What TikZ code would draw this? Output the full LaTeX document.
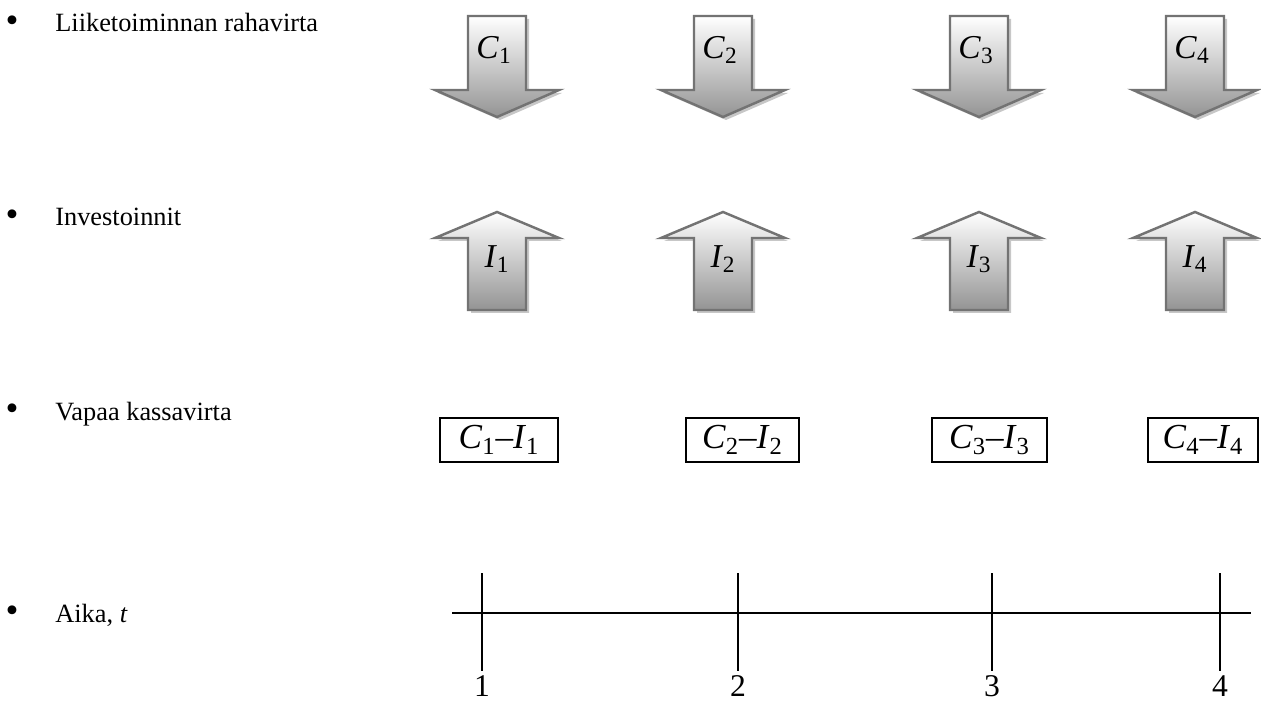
\documentclass[tikz,border=0pt]{standalone}
\usepackage{fontspec}
\setmainfont{Liberation Serif}
\usepackage{tikz}
\usetikzlibrary{positioning}
\newcommand{\Cf}[1]{\textit{C}\textsubscript{#1}}
\newcommand{\If}[1]{\textit{I}\textsubscript{#1}}

\begin{document}
\begin{tikzpicture}[x=0.02cm,y=-0.02cm,
  rowtext/.style={anchor=base west,inner sep=0pt,font=\fontsize{15}{18}\selectfont},
  bul/.style={inner sep=0pt,font=\fontsize{21}{24}\selectfont},
  sym/.style={inner sep=0pt,font=\fontsize{19}{22}\selectfont},
  fcbox/.style={draw,line width=1.1pt,minimum height=0.88cm,
    inner sep=0pt,font=\fontsize{20}{23}\selectfont},
  tline/.style={line width=1.1pt},
  num/.style={anchor=base,inner sep=0pt,font=\fontsize{18}{21}\selectfont},
  arrline/.style={draw=black!55,line width=1.4pt,top color=white,bottom color=black!42},
  shadowfill/.style={fill=black!22},
  downarr/.pic={
    \fill[shadowfill,shift={(3,3)}] (-29,0) -- (29,0) -- (29,74) -- (62,74)
      -- (0,101) -- (-62,74) -- (-29,74) -- cycle;
    \path[arrline] (-29,0) -- (29,0) -- (29,74) -- (62,74)
      -- (0,101) -- (-62,74) -- (-29,74) -- cycle;},
  uparr/.pic={
    \fill[shadowfill,shift={(3,3)}] (0,0) -- (62,26) -- (29,26) -- (29,98)
      -- (-29,98) -- (-29,26) -- (-62,26) -- cycle;
    \path[arrline] (0,0) -- (62,26) -- (29,26) -- (29,98)
      -- (-29,98) -- (-29,26) -- (-62,26) -- cycle;}]

  \useasboundingbox (0,0) rectangle (1261,702);

  % row titles
  \node[bul] (b1) at (12,24) {\textbullet};
  \node[rowtext] (r1) at (55,32) {Liiketoiminnan rahavirta};
  \node[bul] (b2) at (12,218) {\textbullet};
  \node[rowtext] (r2) at (55,226) {Investoinnit};
  \node[bul] (b3) at (12,412) {\textbullet};
  \node[rowtext] (r3) at (55,420) {Vapaa kassavirta};
  \node[bul] (b4) at (12,614) {\textbullet};
  \node[rowtext] (r4) at (55,622) {Aika, \textit{t}};

  % cash flow from operations
  \pic (ca1) at (497,16) {downarr};
  \node[sym] (c1) at (494,50) {\Cf{1}};
  \pic (ca2) at (723,16) {downarr};
  \node[sym] (c2) at (720,50) {\Cf{2}};
  \pic (ca3) at (979,16) {downarr};
  \node[sym] (c3) at (976,50) {\Cf{3}};
  \pic (ca4) at (1195,16) {downarr};
  \node[sym] (c4) at (1192,50) {\Cf{4}};

  % investments
  \pic (ia1) at (497,212) {uparr};
  \node[sym] (i1) at (497,259) {\If{1}};
  \pic (ia2) at (723,212) {uparr};
  \node[sym] (i2) at (723,259) {\If{2}};
  \pic (ia3) at (979,212) {uparr};
  \node[sym] (i3) at (979,259) {\If{3}};
  \pic (ia4) at (1195,212) {uparr};
  \node[sym] (i4) at (1195,259) {\If{4}};

  % free cash flow
  \node[fcbox,minimum width=2.36cm] (f1) at (499,440) {\Cf{1}--\If{1}};
  \node[fcbox,minimum width=2.26cm] (f2) at (742.5,440) {\Cf{2}--\If{2}};
  \node[fcbox,minimum width=2.3cm] (f3) at (989.5,440) {\Cf{3}--\If{3}};
  \node[fcbox,minimum width=2.2cm] (f4) at (1203,440) {\Cf{4}--\If{4}};

  % time axis
  \coordinate (ax0) at (452,613);
  \coordinate (ax5) at (1251,613);
  \coordinate (t1) at (482,613);
  \coordinate (t2) at (738,613);
  \coordinate (t3) at (992,613);
  \coordinate (t4) at (1220,613);
  \draw[tline] (ax0) -- (ax5);
  \draw[tline] (t1) +(0,-40) -- +(0,58);
  \draw[tline] (t2) +(0,-40) -- +(0,58);
  \draw[tline] (t3) +(0,-40) -- +(0,58);
  \draw[tline] (t4) +(0,-40) -- +(0,58);
  \node[num] (n1) at (482,696) {1};
  \node[num] (n2) at (738,696) {2};
  \node[num] (n3) at (992,696) {3};
  \node[num] (n4) at (1220,696) {4};

\end{tikzpicture}
\end{document}
